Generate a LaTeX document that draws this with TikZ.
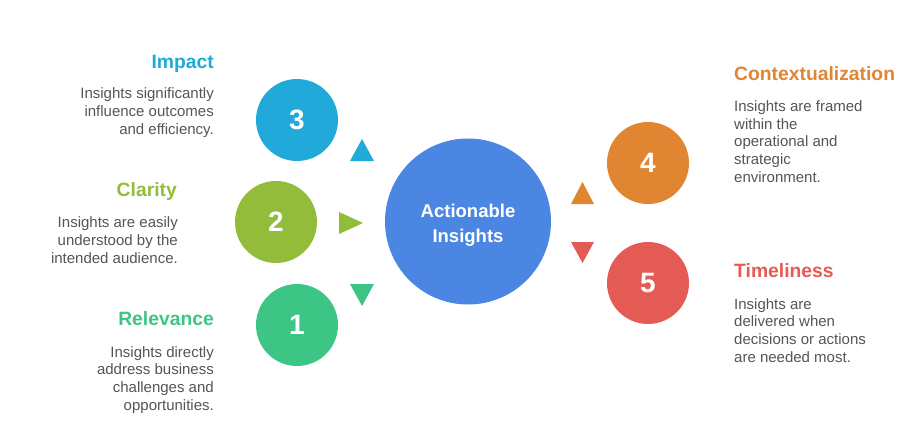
\documentclass[tikz,border=0pt]{standalone}
\usepackage{fontspec}
\setmainfont{Liberation Sans}
\usetikzlibrary{positioning}
\definecolor{hubblue}{HTML}{4B87E2}
\definecolor{impactblue}{HTML}{21AAD9}
\definecolor{claritygreen}{HTML}{94BC3B}
\definecolor{relgreen}{HTML}{3DC585}
\definecolor{ctxorange}{HTML}{E08532}
\definecolor{timered}{HTML}{E45A55}
\definecolor{bodygrey}{HTML}{555555}

\begin{document}
\begin{tikzpicture}[x=1pt,y=-1pt,every node/.style={inner sep=0pt},
  numcirc/.style={circle,minimum size=82pt,text=white,font=\bfseries\fontsize{28}{28}\selectfont},
  headline/.style={font=\bfseries\fontsize{19.3}{22}\selectfont},
  blurb/.style={text=bodygrey,font=\fontsize{15}{17.6}\selectfont}]

\useasboundingbox (0,0) rectangle (919,439);

% hub
\draw node[circle,fill=hubblue,minimum size=166pt] at (468,221.5) (hub) {};
\draw node[text=white,align=center,font=\bfseries\fontsize{18.5}{24.7}\selectfont,below=4pt of hub.center,anchor=center] (hubtxt) {Actionable\\Insights};

% numbered circles
\draw node[numcirc,fill=impactblue] at (297,120) (c3) {3};
\draw node[numcirc,fill=claritygreen] at (276,222) (c2) {2};
\draw node[numcirc,fill=relgreen] at (297,325) (c1) {1};
\draw node[numcirc,fill=ctxorange] at (648,163) (c4) {4};
\draw node[numcirc,fill=timered] at (648,283) (c5) {5};

% little triangles
\fill[impactblue] (350,161) -- (362,139) -- (374,161) -- cycle;
\fill[claritygreen] (339,212) -- (363,223) -- (339,234) -- cycle;
\fill[relgreen] (350,284) -- (362,306) -- (374,284) -- cycle;
\fill[ctxorange] (571,204) -- (582.5,182) -- (594,204) -- cycle;
\fill[timered] (571,242) -- (582.5,263) -- (594,242) -- cycle;

% left texts (base = last line)
\draw node[headline,text=impactblue,anchor=base east] at (214,68) (impact) {Impact};
\draw node[blurb,align=right,anchor=base east] at (214,134) (impacttxt) {Insights significantly\\influence outcomes\\and efficiency.};
\draw node[headline,text=claritygreen,anchor=base east] at (177,196.7) (clarity) {Clarity};
\draw node[blurb,align=right,anchor=base east] at (178,263) (claritytxt) {Insights are easily\\understood by the\\intended audience.};
\draw node[headline,text=relgreen,anchor=base east] at (214,325.7) (relevance) {Relevance};
\draw node[blurb,align=right,anchor=base east] at (214,410) (relevancetxt) {Insights directly\\address business\\challenges and\\opportunities.};

% right texts
\draw node[headline,text=ctxorange,anchor=base west] at (734,80) (context) {Contextualization};
\draw node[blurb,align=left,anchor=base west] at (734,182) (contexttxt) {Insights are framed\\within the\\operational and\\strategic\\environment.};
\draw node[headline,text=timered,anchor=base west] at (734,277.7) (timeliness) {Timeliness};
\draw node[blurb,align=left,anchor=base west] at (734,362) (timelinesstxt) {Insights are\\delivered when\\decisions or actions\\are needed most.};

\end{tikzpicture}
\end{document}
